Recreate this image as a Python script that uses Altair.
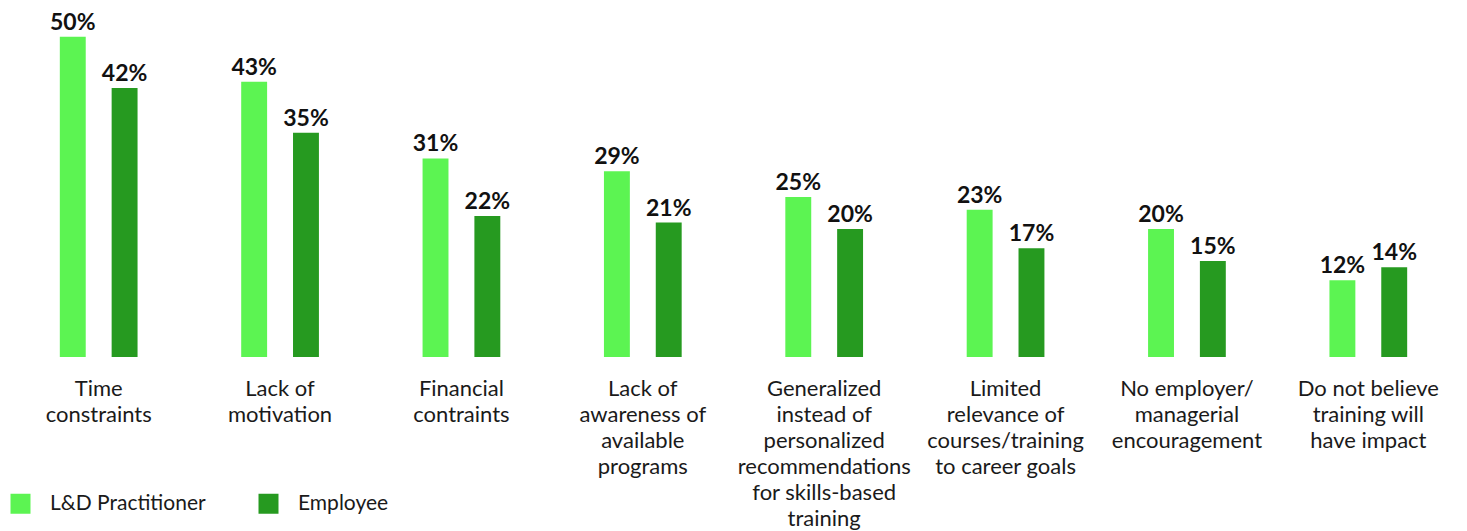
import altair as alt
import pandas as pd

categories = [
    "Time\nconstraints",
    "Lack of\nmotivation",
    "Financial\ncontraints",
    "Lack of\nawareness of\navailable\nprograms",
    "Generalized\ninstead of\npersonalized\nrecommendations\nfor skills-based\ntraining",
    "Limited\nrelevance of\ncourses/training\nto career goals",
    "No employer/\nmanagerial\nencouragement",
    "Do not believe\ntraining will\nhave impact",
]
ld_values = [50, 43, 31, 29, 25, 23, 20, 12]
emp_values = [42, 35, 22, 21, 20, 17, 15, 14]
series = ["L&D Practitioner", "Employee"]
colors = ["#5CF452", "#269A20"]

rows = []
for c, a, b in zip(categories, ld_values, emp_values):
    rows.append({"category": c, "series": series[0], "value": a})
    rows.append({"category": c, "series": series[1], "value": b})
df = pd.DataFrame(rows)

FONT = "Lato"

base = alt.Chart(df).encode(
    x=alt.X(
        "category:N",
        sort=categories,
        scale=alt.Scale(paddingInner=0, paddingOuter=0),
        axis=alt.Axis(
            title=None,
            domain=False,
            ticks=False,
            grid=False,
            labelAngle=0,
            labelExpr="split(datum.label, '\\n')",
            labelFontSize=22,
            labelLineHeight=26,
            labelFont=FONT,
            labelColor="#1a1a1a",
            labelPadding=21,
            labelBaseline="top",
            labelLimit=300,
        ),
    ),
    xOffset=alt.XOffset(
        "series:N",
        sort=series,
        scale=alt.Scale(paddingInner=0.5, paddingOuter=1),
    ),
    y=alt.Y("value:Q", scale=alt.Scale(domain=[0, 54.5]), axis=None),
)

bars = base.mark_bar().encode(
    color=alt.Color(
        "series:N",
        sort=series,
        scale=alt.Scale(domain=series, range=colors),
        legend=alt.Legend(
            title=None,
            orient="none",
            legendX=2,
            legendY=485,
            direction="horizontal",
            symbolType="square",
            symbolSize=400,
            symbolStrokeWidth=0,
            symbolOpacity=1,
            labelFontSize=21,
            labelFont=FONT,
            labelColor="#1a1a1a",
            labelOffset=19,
            columnPadding=52,
        ),
    )
)

texts = base.transform_calculate(label="datum.value + '%'").mark_text(
    baseline="alphabetic", dy=-7, fontSize=23, fontWeight="bold", font=FONT, color="#111111"
).encode(text="label:N")

chart = (
    alt.layer(bars, texts)
    .properties(
        width=1451,
        height=349,
        padding={"left": 0, "top": 0, "right": 0, "bottom": 174},
        autosize=alt.AutoSizeParams(type="none"),
    )
    .configure_view(stroke=None)
)

chart.save("out.html", embed_options={"renderer": "svg", "actions": False})
